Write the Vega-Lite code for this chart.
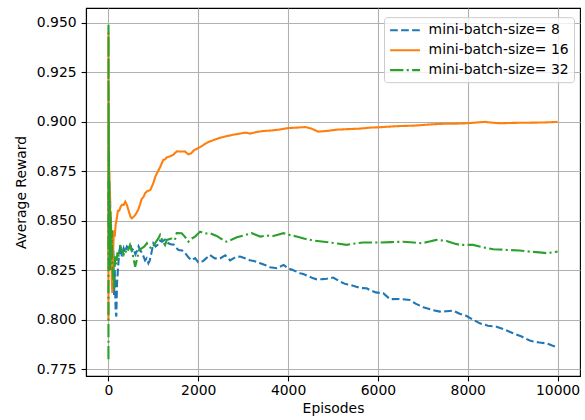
{
  "$schema": "https://vega.github.io/schema/vega-lite/v6.json",
  "width": 494,
  "height": 368,
  "autosize": {"type": "none"},
  "padding": {"left": 86, "top": 8, "right": 5, "bottom": 44},
  "background": "white",
  "config": {
    "font": "DejaVu Sans",
    "view": {"stroke": "black", "strokeWidth": 1.1},
    "axis": {
      "labelFont": "DejaVu Sans",
      "titleFont": "DejaVu Sans",
      "labelFontSize": 13.9,
      "titleFontSize": 13.9,
      "labelColor": "black",
      "titleColor": "black",
      "titleFontWeight": "normal",
      "gridColor": "#b0b0b0",
      "gridWidth": 1.1,
      "gridOpacity": 1,
      "domainColor": "black",
      "domainWidth": 1.1,
      "tickColor": "black",
      "tickWidth": 1.1,
      "tickSize": 4.9
    },
    "legend": {
      "labelFont": "DejaVu Sans",
      "labelFontSize": 13.9,
      "labelColor": "black",
      "symbolType": "M-1,0H3.286",
      "symbolSize": 196,
      "symbolStrokeWidth": 2.1,
      "symbolFillColor": "transparent",
      "fillColor": "rgba(255,255,255,0.8)",
      "strokeColor": "#cccccc",
      "padding": 4.6,
      "cornerRadius": 3,
      "rowPadding": 3.9,
      "labelOffset": 23,
      "orient": "none",
      "legendX": 298,
      "legendY": 9.2
    }
  },
  "data": {
    "values": [
      {"series": "mini-batch-size= 8", "episode": 0, "reward": 0.87},
      {"series": "mini-batch-size= 8", "episode": 2, "reward": 0.83},
      {"series": "mini-batch-size= 8", "episode": 4, "reward": 0.86},
      {"series": "mini-batch-size= 8", "episode": 7, "reward": 0.84},
      {"series": "mini-batch-size= 8", "episode": 10, "reward": 0.868},
      {"series": "mini-batch-size= 8", "episode": 15, "reward": 0.845},
      {"series": "mini-batch-size= 8", "episode": 20, "reward": 0.87},
      {"series": "mini-batch-size= 8", "episode": 28, "reward": 0.85},
      {"series": "mini-batch-size= 8", "episode": 36, "reward": 0.862},
      {"series": "mini-batch-size= 8", "episode": 45, "reward": 0.838},
      {"series": "mini-batch-size= 8", "episode": 55, "reward": 0.852},
      {"series": "mini-batch-size= 8", "episode": 65, "reward": 0.83},
      {"series": "mini-batch-size= 8", "episode": 80, "reward": 0.845},
      {"series": "mini-batch-size= 8", "episode": 95, "reward": 0.822},
      {"series": "mini-batch-size= 8", "episode": 110, "reward": 0.835},
      {"series": "mini-batch-size= 8", "episode": 125, "reward": 0.812},
      {"series": "mini-batch-size= 8", "episode": 140, "reward": 0.825},
      {"series": "mini-batch-size= 8", "episode": 160, "reward": 0.805},
      {"series": "mini-batch-size= 8", "episode": 175, "reward": 0.8016},
      {"series": "mini-batch-size= 8", "episode": 190, "reward": 0.818},
      {"series": "mini-batch-size= 8", "episode": 210, "reward": 0.825},
      {"series": "mini-batch-size= 8", "episode": 235, "reward": 0.833},
      {"series": "mini-batch-size= 8", "episode": 260, "reward": 0.837},
      {"series": "mini-batch-size= 8", "episode": 300, "reward": 0.832},
      {"series": "mini-batch-size= 8", "episode": 340, "reward": 0.836},
      {"series": "mini-batch-size= 8", "episode": 370, "reward": 0.834},
      {"series": "mini-batch-size= 8", "episode": 410, "reward": 0.837},
      {"series": "mini-batch-size= 8", "episode": 450, "reward": 0.8361},
      {"series": "mini-batch-size= 8", "episode": 490, "reward": 0.838},
      {"series": "mini-batch-size= 8", "episode": 520, "reward": 0.835},
      {"series": "mini-batch-size= 8", "episode": 560, "reward": 0.836},
      {"series": "mini-batch-size= 8", "episode": 600, "reward": 0.833},
      {"series": "mini-batch-size= 8", "episode": 640, "reward": 0.835},
      {"series": "mini-batch-size= 8", "episode": 670, "reward": 0.837},
      {"series": "mini-batch-size= 8", "episode": 710, "reward": 0.835},
      {"series": "mini-batch-size= 8", "episode": 740, "reward": 0.834},
      {"series": "mini-batch-size= 8", "episode": 780, "reward": 0.832},
      {"series": "mini-batch-size= 8", "episode": 815, "reward": 0.83},
      {"series": "mini-batch-size= 8", "episode": 850, "reward": 0.831},
      {"series": "mini-batch-size= 8", "episode": 890, "reward": 0.8285},
      {"series": "mini-batch-size= 8", "episode": 920, "reward": 0.83},
      {"series": "mini-batch-size= 8", "episode": 950, "reward": 0.833},
      {"series": "mini-batch-size= 8", "episode": 1000, "reward": 0.8386},
      {"series": "mini-batch-size= 8", "episode": 1050, "reward": 0.837},
      {"series": "mini-batch-size= 8", "episode": 1100, "reward": 0.838},
      {"series": "mini-batch-size= 8", "episode": 1150, "reward": 0.84},
      {"series": "mini-batch-size= 8", "episode": 1190, "reward": 0.8394},
      {"series": "mini-batch-size= 8", "episode": 1260, "reward": 0.8405},
      {"series": "mini-batch-size= 8", "episode": 1335, "reward": 0.8386},
      {"series": "mini-batch-size= 8", "episode": 1400, "reward": 0.838},
      {"series": "mini-batch-size= 8", "episode": 1450, "reward": 0.838},
      {"series": "mini-batch-size= 8", "episode": 1500, "reward": 0.8365},
      {"series": "mini-batch-size= 8", "episode": 1560, "reward": 0.8352},
      {"series": "mini-batch-size= 8", "episode": 1640, "reward": 0.835},
      {"series": "mini-batch-size= 8", "episode": 1710, "reward": 0.8336},
      {"series": "mini-batch-size= 8", "episode": 1780, "reward": 0.8315},
      {"series": "mini-batch-size= 8", "episode": 1855, "reward": 0.83},
      {"series": "mini-batch-size= 8", "episode": 1930, "reward": 0.8311},
      {"series": "mini-batch-size= 8", "episode": 2000, "reward": 0.829},
      {"series": "mini-batch-size= 8", "episode": 2100, "reward": 0.8295},
      {"series": "mini-batch-size= 8", "episode": 2150, "reward": 0.8305},
      {"series": "mini-batch-size= 8", "episode": 2260, "reward": 0.8327},
      {"series": "mini-batch-size= 8", "episode": 2370, "reward": 0.831},
      {"series": "mini-batch-size= 8", "episode": 2485, "reward": 0.831},
      {"series": "mini-batch-size= 8", "episode": 2600, "reward": 0.8325},
      {"series": "mini-batch-size= 8", "episode": 2710, "reward": 0.83},
      {"series": "mini-batch-size= 8", "episode": 2820, "reward": 0.8315},
      {"series": "mini-batch-size= 8", "episode": 2930, "reward": 0.8319},
      {"series": "mini-batch-size= 8", "episode": 3040, "reward": 0.831},
      {"series": "mini-batch-size= 8", "episode": 3150, "reward": 0.83},
      {"series": "mini-batch-size= 8", "episode": 3260, "reward": 0.8295},
      {"series": "mini-batch-size= 8", "episode": 3380, "reward": 0.8285},
      {"series": "mini-batch-size= 8", "episode": 3500, "reward": 0.8275},
      {"series": "mini-batch-size= 8", "episode": 3600, "reward": 0.8265},
      {"series": "mini-batch-size= 8", "episode": 3750, "reward": 0.826},
      {"series": "mini-batch-size= 8", "episode": 3900, "reward": 0.8277},
      {"series": "mini-batch-size= 8", "episode": 4000, "reward": 0.826},
      {"series": "mini-batch-size= 8", "episode": 4120, "reward": 0.825},
      {"series": "mini-batch-size= 8", "episode": 4265, "reward": 0.8235},
      {"series": "mini-batch-size= 8", "episode": 4340, "reward": 0.8231},
      {"series": "mini-batch-size= 8", "episode": 4450, "reward": 0.822},
      {"series": "mini-batch-size= 8", "episode": 4560, "reward": 0.8209},
      {"series": "mini-batch-size= 8", "episode": 4640, "reward": 0.8204},
      {"series": "mini-batch-size= 8", "episode": 4760, "reward": 0.8205},
      {"series": "mini-batch-size= 8", "episode": 4860, "reward": 0.8207},
      {"series": "mini-batch-size= 8", "episode": 5005, "reward": 0.8213},
      {"series": "mini-batch-size= 8", "episode": 5160, "reward": 0.8192},
      {"series": "mini-batch-size= 8", "episode": 5280, "reward": 0.818},
      {"series": "mini-batch-size= 8", "episode": 5380, "reward": 0.8176},
      {"series": "mini-batch-size= 8", "episode": 5500, "reward": 0.8168},
      {"series": "mini-batch-size= 8", "episode": 5620, "reward": 0.816},
      {"series": "mini-batch-size= 8", "episode": 5750, "reward": 0.8159},
      {"series": "mini-batch-size= 8", "episode": 5820, "reward": 0.815},
      {"series": "mini-batch-size= 8", "episode": 5950, "reward": 0.8138},
      {"series": "mini-batch-size= 8", "episode": 6120, "reward": 0.8134},
      {"series": "mini-batch-size= 8", "episode": 6270, "reward": 0.8104},
      {"series": "mini-batch-size= 8", "episode": 6490, "reward": 0.8105},
      {"series": "mini-batch-size= 8", "episode": 6710, "reward": 0.81},
      {"series": "mini-batch-size= 8", "episode": 6850, "reward": 0.808},
      {"series": "mini-batch-size= 8", "episode": 7010, "reward": 0.8063},
      {"series": "mini-batch-size= 8", "episode": 7200, "reward": 0.805},
      {"series": "mini-batch-size= 8", "episode": 7380, "reward": 0.8041},
      {"series": "mini-batch-size= 8", "episode": 7530, "reward": 0.8043},
      {"series": "mini-batch-size= 8", "episode": 7680, "reward": 0.8046},
      {"series": "mini-batch-size= 8", "episode": 7820, "reward": 0.803},
      {"series": "mini-batch-size= 8", "episode": 7975, "reward": 0.8019},
      {"series": "mini-batch-size= 8", "episode": 8120, "reward": 0.8},
      {"series": "mini-batch-size= 8", "episode": 8270, "reward": 0.7982},
      {"series": "mini-batch-size= 8", "episode": 8450, "reward": 0.797},
      {"series": "mini-batch-size= 8", "episode": 8640, "reward": 0.7965},
      {"series": "mini-batch-size= 8", "episode": 8820, "reward": 0.795},
      {"series": "mini-batch-size= 8", "episode": 9010, "reward": 0.7932},
      {"series": "mini-batch-size= 8", "episode": 9200, "reward": 0.7915},
      {"series": "mini-batch-size= 8", "episode": 9380, "reward": 0.7895},
      {"series": "mini-batch-size= 8", "episode": 9460, "reward": 0.789},
      {"series": "mini-batch-size= 8", "episode": 9600, "reward": 0.7885},
      {"series": "mini-batch-size= 8", "episode": 9755, "reward": 0.7881},
      {"series": "mini-batch-size= 8", "episode": 9880, "reward": 0.787},
      {"series": "mini-batch-size= 8", "episode": 10000, "reward": 0.7861},

      {"series": "mini-batch-size= 16", "episode": 0, "reward": 0.8},
      {"series": "mini-batch-size= 16", "episode": 1, "reward": 0.945},
      {"series": "mini-batch-size= 16", "episode": 2, "reward": 0.89},
      {"series": "mini-batch-size= 16", "episode": 3, "reward": 0.92},
      {"series": "mini-batch-size= 16", "episode": 5, "reward": 0.87},
      {"series": "mini-batch-size= 16", "episode": 7, "reward": 0.9},
      {"series": "mini-batch-size= 16", "episode": 10, "reward": 0.86},
      {"series": "mini-batch-size= 16", "episode": 13, "reward": 0.885},
      {"series": "mini-batch-size= 16", "episode": 17, "reward": 0.85},
      {"series": "mini-batch-size= 16", "episode": 22, "reward": 0.875},
      {"series": "mini-batch-size= 16", "episode": 28, "reward": 0.84},
      {"series": "mini-batch-size= 16", "episode": 34, "reward": 0.865},
      {"series": "mini-batch-size= 16", "episode": 40, "reward": 0.83},
      {"series": "mini-batch-size= 16", "episode": 48, "reward": 0.855},
      {"series": "mini-batch-size= 16", "episode": 56, "reward": 0.825},
      {"series": "mini-batch-size= 16", "episode": 65, "reward": 0.845},
      {"series": "mini-batch-size= 16", "episode": 75, "reward": 0.82},
      {"series": "mini-batch-size= 16", "episode": 85, "reward": 0.8135},
      {"series": "mini-batch-size= 16", "episode": 95, "reward": 0.825},
      {"series": "mini-batch-size= 16", "episode": 105, "reward": 0.835},
      {"series": "mini-batch-size= 16", "episode": 120, "reward": 0.845},
      {"series": "mini-batch-size= 16", "episode": 140, "reward": 0.842},
      {"series": "mini-batch-size= 16", "episode": 160, "reward": 0.848},
      {"series": "mini-batch-size= 16", "episode": 185, "reward": 0.851},
      {"series": "mini-batch-size= 16", "episode": 210, "reward": 0.855},
      {"series": "mini-batch-size= 16", "episode": 240, "reward": 0.855},
      {"series": "mini-batch-size= 16", "episode": 270, "reward": 0.857},
      {"series": "mini-batch-size= 16", "episode": 300, "reward": 0.858},
      {"series": "mini-batch-size= 16", "episode": 340, "reward": 0.858},
      {"series": "mini-batch-size= 16", "episode": 375, "reward": 0.8596},
      {"series": "mini-batch-size= 16", "episode": 410, "reward": 0.858},
      {"series": "mini-batch-size= 16", "episode": 450, "reward": 0.855},
      {"series": "mini-batch-size= 16", "episode": 490, "reward": 0.852},
      {"series": "mini-batch-size= 16", "episode": 520, "reward": 0.8512},
      {"series": "mini-batch-size= 16", "episode": 560, "reward": 0.852},
      {"series": "mini-batch-size= 16", "episode": 600, "reward": 0.853},
      {"series": "mini-batch-size= 16", "episode": 660, "reward": 0.8554},
      {"series": "mini-batch-size= 16", "episode": 700, "reward": 0.858},
      {"series": "mini-batch-size= 16", "episode": 740, "reward": 0.861},
      {"series": "mini-batch-size= 16", "episode": 780, "reward": 0.862},
      {"series": "mini-batch-size= 16", "episode": 820, "reward": 0.864},
      {"series": "mini-batch-size= 16", "episode": 870, "reward": 0.865},
      {"series": "mini-batch-size= 16", "episode": 930, "reward": 0.8654},
      {"series": "mini-batch-size= 16", "episode": 1000, "reward": 0.869},
      {"series": "mini-batch-size= 16", "episode": 1040, "reward": 0.872},
      {"series": "mini-batch-size= 16", "episode": 1080, "reward": 0.874},
      {"series": "mini-batch-size= 16", "episode": 1150, "reward": 0.877},
      {"series": "mini-batch-size= 16", "episode": 1220, "reward": 0.8807},
      {"series": "mini-batch-size= 16", "episode": 1260, "reward": 0.881},
      {"series": "mini-batch-size= 16", "episode": 1300, "reward": 0.882},
      {"series": "mini-batch-size= 16", "episode": 1370, "reward": 0.8825},
      {"series": "mini-batch-size= 16", "episode": 1440, "reward": 0.8832},
      {"series": "mini-batch-size= 16", "episode": 1520, "reward": 0.885},
      {"series": "mini-batch-size= 16", "episode": 1600, "reward": 0.8849},
      {"series": "mini-batch-size= 16", "episode": 1700, "reward": 0.885},
      {"series": "mini-batch-size= 16", "episode": 1780, "reward": 0.8835},
      {"series": "mini-batch-size= 16", "episode": 1840, "reward": 0.884},
      {"series": "mini-batch-size= 16", "episode": 1900, "reward": 0.8855},
      {"series": "mini-batch-size= 16", "episode": 2000, "reward": 0.8867},
      {"series": "mini-batch-size= 16", "episode": 2100, "reward": 0.888},
      {"series": "mini-batch-size= 16", "episode": 2200, "reward": 0.8895},
      {"series": "mini-batch-size= 16", "episode": 2375, "reward": 0.891},
      {"series": "mini-batch-size= 16", "episode": 2500, "reward": 0.892},
      {"series": "mini-batch-size= 16", "episode": 2650, "reward": 0.8928},
      {"series": "mini-batch-size= 16", "episode": 2800, "reward": 0.8935},
      {"series": "mini-batch-size= 16", "episode": 2930, "reward": 0.894},
      {"series": "mini-batch-size= 16", "episode": 3050, "reward": 0.8945},
      {"series": "mini-batch-size= 16", "episode": 3150, "reward": 0.894},
      {"series": "mini-batch-size= 16", "episode": 3300, "reward": 0.8948},
      {"series": "mini-batch-size= 16", "episode": 3450, "reward": 0.8953},
      {"series": "mini-batch-size= 16", "episode": 3600, "reward": 0.8955},
      {"series": "mini-batch-size= 16", "episode": 3800, "reward": 0.896},
      {"series": "mini-batch-size= 16", "episode": 4000, "reward": 0.8968},
      {"series": "mini-batch-size= 16", "episode": 4200, "reward": 0.897},
      {"series": "mini-batch-size= 16", "episode": 4380, "reward": 0.8973},
      {"series": "mini-batch-size= 16", "episode": 4520, "reward": 0.8965},
      {"series": "mini-batch-size= 16", "episode": 4670, "reward": 0.895},
      {"series": "mini-batch-size= 16", "episode": 4800, "reward": 0.8952},
      {"series": "mini-batch-size= 16", "episode": 4930, "reward": 0.8955},
      {"series": "mini-batch-size= 16", "episode": 5100, "reward": 0.896},
      {"series": "mini-batch-size= 16", "episode": 5380, "reward": 0.8963},
      {"series": "mini-batch-size= 16", "episode": 5600, "reward": 0.8965},
      {"series": "mini-batch-size= 16", "episode": 5820, "reward": 0.897},
      {"series": "mini-batch-size= 16", "episode": 6040, "reward": 0.8972},
      {"series": "mini-batch-size= 16", "episode": 6250, "reward": 0.8975},
      {"series": "mini-batch-size= 16", "episode": 6490, "reward": 0.8978},
      {"series": "mini-batch-size= 16", "episode": 6800, "reward": 0.898},
      {"series": "mini-batch-size= 16", "episode": 7100, "reward": 0.8985},
      {"series": "mini-batch-size= 16", "episode": 7380, "reward": 0.8989},
      {"series": "mini-batch-size= 16", "episode": 7700, "reward": 0.899},
      {"series": "mini-batch-size= 16", "episode": 7980, "reward": 0.8992},
      {"series": "mini-batch-size= 16", "episode": 8200, "reward": 0.8996},
      {"series": "mini-batch-size= 16", "episode": 8380, "reward": 0.8999},
      {"series": "mini-batch-size= 16", "episode": 8550, "reward": 0.8995},
      {"series": "mini-batch-size= 16", "episode": 8720, "reward": 0.8992},
      {"series": "mini-batch-size= 16", "episode": 9000, "reward": 0.8994},
      {"series": "mini-batch-size= 16", "episode": 9380, "reward": 0.8995},
      {"series": "mini-batch-size= 16", "episode": 9700, "reward": 0.8996},
      {"series": "mini-batch-size= 16", "episode": 10000, "reward": 0.8999},

      {"series": "mini-batch-size= 32", "episode": 0, "reward": 0.78},
      {"series": "mini-batch-size= 32", "episode": 1, "reward": 0.949},
      {"series": "mini-batch-size= 32", "episode": 2, "reward": 0.86},
      {"series": "mini-batch-size= 32", "episode": 3, "reward": 0.915},
      {"series": "mini-batch-size= 32", "episode": 4, "reward": 0.875},
      {"series": "mini-batch-size= 32", "episode": 6, "reward": 0.9},
      {"series": "mini-batch-size= 32", "episode": 8, "reward": 0.855},
      {"series": "mini-batch-size= 32", "episode": 11, "reward": 0.885},
      {"series": "mini-batch-size= 32", "episode": 14, "reward": 0.84},
      {"series": "mini-batch-size= 32", "episode": 18, "reward": 0.87},
      {"series": "mini-batch-size= 32", "episode": 23, "reward": 0.83},
      {"series": "mini-batch-size= 32", "episode": 28, "reward": 0.86},
      {"series": "mini-batch-size= 32", "episode": 34, "reward": 0.825},
      {"series": "mini-batch-size= 32", "episode": 40, "reward": 0.855},
      {"series": "mini-batch-size= 32", "episode": 47, "reward": 0.835},
      {"series": "mini-batch-size= 32", "episode": 55, "reward": 0.85},
      {"series": "mini-batch-size= 32", "episode": 65, "reward": 0.828},
      {"series": "mini-batch-size= 32", "episode": 75, "reward": 0.845},
      {"series": "mini-batch-size= 32", "episode": 90, "reward": 0.826},
      {"series": "mini-batch-size= 32", "episode": 105, "reward": 0.822},
      {"series": "mini-batch-size= 32", "episode": 120, "reward": 0.8156},
      {"series": "mini-batch-size= 32", "episode": 135, "reward": 0.825},
      {"series": "mini-batch-size= 32", "episode": 150, "reward": 0.832},
      {"series": "mini-batch-size= 32", "episode": 175, "reward": 0.828},
      {"series": "mini-batch-size= 32", "episode": 200, "reward": 0.834},
      {"series": "mini-batch-size= 32", "episode": 230, "reward": 0.832},
      {"series": "mini-batch-size= 32", "episode": 260, "reward": 0.8377},
      {"series": "mini-batch-size= 32", "episode": 300, "reward": 0.835},
      {"series": "mini-batch-size= 32", "episode": 340, "reward": 0.833},
      {"series": "mini-batch-size= 32", "episode": 370, "reward": 0.835},
      {"series": "mini-batch-size= 32", "episode": 410, "reward": 0.8337},
      {"series": "mini-batch-size= 32", "episode": 480, "reward": 0.8378},
      {"series": "mini-batch-size= 32", "episode": 530, "reward": 0.834},
      {"series": "mini-batch-size= 32", "episode": 595, "reward": 0.8268},
      {"series": "mini-batch-size= 32", "episode": 630, "reward": 0.83},
      {"series": "mini-batch-size= 32", "episode": 680, "reward": 0.835},
      {"series": "mini-batch-size= 32", "episode": 740, "reward": 0.8361},
      {"series": "mini-batch-size= 32", "episode": 800, "reward": 0.837},
      {"series": "mini-batch-size= 32", "episode": 855, "reward": 0.8386},
      {"series": "mini-batch-size= 32", "episode": 890, "reward": 0.837},
      {"series": "mini-batch-size= 32", "episode": 965, "reward": 0.836},
      {"series": "mini-batch-size= 32", "episode": 1020, "reward": 0.838},
      {"series": "mini-batch-size= 32", "episode": 1110, "reward": 0.8411},
      {"series": "mini-batch-size= 32", "episode": 1150, "reward": 0.8428},
      {"series": "mini-batch-size= 32", "episode": 1200, "reward": 0.84},
      {"series": "mini-batch-size= 32", "episode": 1260, "reward": 0.8377},
      {"series": "mini-batch-size= 32", "episode": 1300, "reward": 0.8403},
      {"series": "mini-batch-size= 32", "episode": 1400, "reward": 0.841},
      {"series": "mini-batch-size= 32", "episode": 1480, "reward": 0.8403},
      {"series": "mini-batch-size= 32", "episode": 1520, "reward": 0.8438},
      {"series": "mini-batch-size= 32", "episode": 1630, "reward": 0.8437},
      {"series": "mini-batch-size= 32", "episode": 1700, "reward": 0.842},
      {"series": "mini-batch-size= 32", "episode": 1780, "reward": 0.8394},
      {"series": "mini-batch-size= 32", "episode": 1850, "reward": 0.841},
      {"series": "mini-batch-size= 32", "episode": 1930, "reward": 0.842},
      {"series": "mini-batch-size= 32", "episode": 2040, "reward": 0.8445},
      {"series": "mini-batch-size= 32", "episode": 2150, "reward": 0.8435},
      {"series": "mini-batch-size= 32", "episode": 2260, "reward": 0.8437},
      {"series": "mini-batch-size= 32", "episode": 2410, "reward": 0.8423},
      {"series": "mini-batch-size= 32", "episode": 2500, "reward": 0.841},
      {"series": "mini-batch-size= 32", "episode": 2630, "reward": 0.8394},
      {"series": "mini-batch-size= 32", "episode": 2750, "reward": 0.8405},
      {"series": "mini-batch-size= 32", "episode": 2860, "reward": 0.8416},
      {"series": "mini-batch-size= 32", "episode": 3000, "reward": 0.8425},
      {"series": "mini-batch-size= 32", "episode": 3190, "reward": 0.8437},
      {"series": "mini-batch-size= 32", "episode": 3380, "reward": 0.842},
      {"series": "mini-batch-size= 32", "episode": 3500, "reward": 0.8425},
      {"series": "mini-batch-size= 32", "episode": 3670, "reward": 0.8423},
      {"series": "mini-batch-size= 32", "episode": 3900, "reward": 0.8437},
      {"series": "mini-batch-size= 32", "episode": 4000, "reward": 0.843},
      {"series": "mini-batch-size= 32", "episode": 4190, "reward": 0.842},
      {"series": "mini-batch-size= 32", "episode": 4350, "reward": 0.841},
      {"series": "mini-batch-size= 32", "episode": 4560, "reward": 0.84},
      {"series": "mini-batch-size= 32", "episode": 4750, "reward": 0.8395},
      {"series": "mini-batch-size= 32", "episode": 4930, "reward": 0.839},
      {"series": "mini-batch-size= 32", "episode": 5100, "reward": 0.8385},
      {"series": "mini-batch-size= 32", "episode": 5300, "reward": 0.8378},
      {"series": "mini-batch-size= 32", "episode": 5500, "reward": 0.8385},
      {"series": "mini-batch-size= 32", "episode": 5670, "reward": 0.839},
      {"series": "mini-batch-size= 32", "episode": 5820, "reward": 0.839},
      {"series": "mini-batch-size= 32", "episode": 6045, "reward": 0.839},
      {"series": "mini-batch-size= 32", "episode": 6300, "reward": 0.8392},
      {"series": "mini-batch-size= 32", "episode": 6560, "reward": 0.8394},
      {"series": "mini-batch-size= 32", "episode": 6800, "reward": 0.839},
      {"series": "mini-batch-size= 32", "episode": 6970, "reward": 0.8386},
      {"series": "mini-batch-size= 32", "episode": 7150, "reward": 0.8395},
      {"series": "mini-batch-size= 32", "episode": 7300, "reward": 0.8403},
      {"series": "mini-batch-size= 32", "episode": 7530, "reward": 0.8398},
      {"series": "mini-batch-size= 32", "episode": 7700, "reward": 0.8385},
      {"series": "mini-batch-size= 32", "episode": 7825, "reward": 0.8378},
      {"series": "mini-batch-size= 32", "episode": 8120, "reward": 0.8378},
      {"series": "mini-batch-size= 32", "episode": 8350, "reward": 0.8365},
      {"series": "mini-batch-size= 32", "episode": 8570, "reward": 0.8356},
      {"series": "mini-batch-size= 32", "episode": 8940, "reward": 0.8352},
      {"series": "mini-batch-size= 32", "episode": 9150, "reward": 0.835},
      {"series": "mini-batch-size= 32", "episode": 9380, "reward": 0.8344},
      {"series": "mini-batch-size= 32", "episode": 9600, "reward": 0.834},
      {"series": "mini-batch-size= 32", "episode": 9755, "reward": 0.8336},
      {"series": "mini-batch-size= 32", "episode": 10000, "reward": 0.8344}
    ]
  },
  "mark": {"type": "line", "strokeWidth": 2.1, "clip": true},
  "encoding": {
    "x": {
      "field": "episode",
      "type": "quantitative",
      "scale": {"domain": [-500, 10500], "nice": false, "zero": false},
      "axis": {"title": "Episodes", "values": [0, 2000, 4000, 6000, 8000, 10000], "format": "d", "labelPadding": 3, "titlePadding": 4}
    },
    "y": {
      "field": "reward",
      "type": "quantitative",
      "scale": {"domain": [0.7716, 0.9574], "nice": false, "zero": false},
      "axis": {"title": "Average Reward", "values": [0.775, 0.8, 0.825, 0.85, 0.875, 0.9, 0.925, 0.95], "format": ".3f", "labelPadding": 5, "titlePadding": 8}
    },
    "color": {
      "field": "series",
      "type": "nominal",
      "scale": {"domain": ["mini-batch-size= 8", "mini-batch-size= 16", "mini-batch-size= 32"], "range": ["#1f77b4", "#ff7f0e", "#2ca02c"]},
      "legend": {"title": null}
    },
    "strokeDash": {
      "field": "series",
      "type": "nominal",
      "scale": {"domain": ["mini-batch-size= 8", "mini-batch-size= 16", "mini-batch-size= 32"], "range": [[7.7, 3.3], [1, 0], [13.3, 3.3, 2.1, 3.3]]},
      "legend": {"title": null}
    }
  }
}
